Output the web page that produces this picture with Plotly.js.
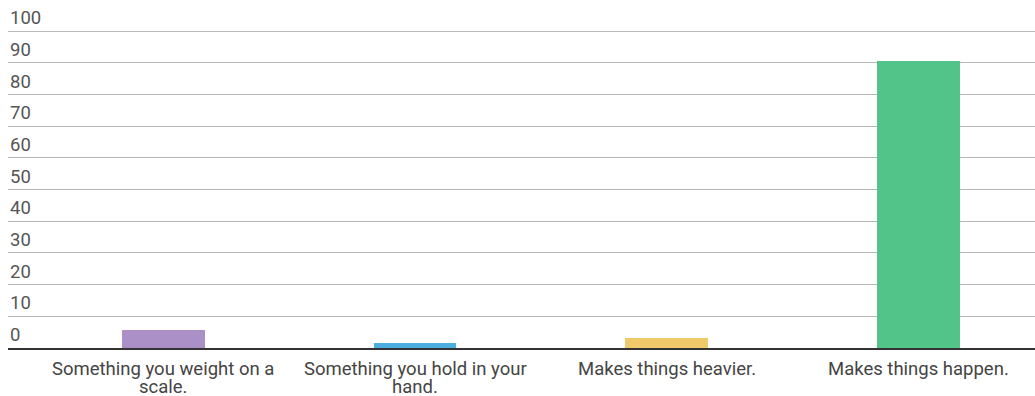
<!DOCTYPE html>
<html>
<head>
<meta charset="utf-8">
<script src="https://cdn.plot.ly/plotly-3.0.1.min.js"></script>
<style>html,body{margin:0;padding:0;background:#fff;}#chart{width:1035px;height:396px;}</style>
</head>
<body>
<div id="chart"></div>
<script>
const categoryLines = [["Something you weight on a", "scale."], ["Something you hold in your", "hand."], ["Makes things heavier."], ["Makes things happen."]];
const categories = categoryLines.map(l => l.join(" "));
const values = [5.7, 1.5, 3.2, 90.5];
const barColors = ["#ab8fc7", "#4eaee0", "#f0c96b", "#52c48a"];
const yTicks = [0, 10, 20, 30, 40, 50, 60, 70, 80, 90, 100];

const trace = {
  type: "bar",
  x: categories,
  y: values,
  width: 0.328,
  marker: {color: barColors, line: {width: 0}},
  hoverinfo: "none"
};

const yLabelAnnotations = yTicks.map(v => ({
  xref: "paper", yref: "y",
  x: 0, y: v,
  text: String(v),
  showarrow: false,
  xanchor: "left", yanchor: "bottom",
  yshift: 0,
  font: {family: "Roboto, sans-serif", size: 18.5, color: "#555555"}
}));

const xLabelAnnotations = [];
categoryLines.forEach((lines, i) => {
  lines.forEach((line, j) => {
    xLabelAnnotations.push({
      xref: "x", yref: "paper",
      x: categories[i], y: 0,
      text: line,
      showarrow: false,
      xanchor: "center", yanchor: "top",
      borderpad: 0,
      yshift: -9 - 18 * j,
      font: {family: "Roboto, sans-serif", size: 18.5, color: "#444444"}
    });
  });
});

const layout = {
  width: 1035,
  height: 396,
  margin: {l: 8, r: 0, t: 9, b: 48, pad: 0},
  paper_bgcolor: "#ffffff",
  plot_bgcolor: "#ffffff",
  showlegend: false,
  font: {family: "Roboto, sans-serif", size: 18.5, color: "#444444"},
  xaxis: {
    type: "category",
    range: [-0.618, 3.464],
    showgrid: false,
    showline: true,
    linecolor: "#333333",
    linewidth: 2,
    ticks: "",
    showticklabels: false,
    fixedrange: true
  },
  yaxis: {
    range: [0, 107],
    tickvals: yTicks,
    showticklabels: false,
    showgrid: true,
    gridcolor: "#b8b8b8",
    gridwidth: 1,
    zeroline: false,
    showline: false,
    ticks: "",
    fixedrange: true
  },
  annotations: yLabelAnnotations.concat(xLabelAnnotations),
  bargap: 0
};

Plotly.newPlot("chart", [trace], layout, {displayModeBar: false, staticPlot: true});
</script>
</body>
</html>
